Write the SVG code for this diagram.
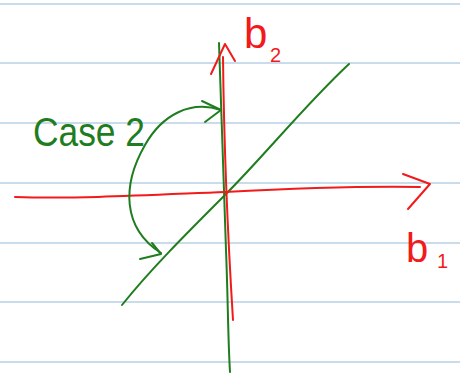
<svg xmlns="http://www.w3.org/2000/svg" width="460" height="375" viewBox="0 0 460 375">
<style>
.rule{stroke:#b7d0e4;stroke-width:1.6}
.red{fill:none;stroke:#f21a1a;stroke-width:2;stroke-linecap:round;stroke-linejoin:round}
.grn{fill:none;stroke:#1f7d1f;stroke-width:2;stroke-linecap:round;stroke-linejoin:round}
.rt{fill:#f21a1a;font-family:'Liberation Sans',sans-serif}
.gt{fill:#1f7d1f;font-family:'Liberation Sans',sans-serif}
</style>
<rect width="460" height="375" fill="#fff"/>
<g id="ruling">
<line class="rule" x1="0" y1="4" x2="460" y2="4"/>
<line class="rule" x1="0" y1="63" x2="460" y2="63"/>
<line class="rule" x1="0" y1="123" x2="460" y2="123"/>
<line class="rule" x1="0" y1="183" x2="460" y2="183"/>
<line class="rule" x1="0" y1="243" x2="460" y2="243"/>
<line class="rule" x1="0" y1="302" x2="460" y2="302"/>
<line class="rule" x1="0" y1="362" x2="460" y2="362"/>
</g>
<g id="green-lines">
<path class="grn" d="M219,43 C221,120 224,190 226,250 C228,300 228,340 230,372"/>
<path class="grn" d="M122,305 C150,270 185,235 225,195 C265,155 305,105 349,64"/>
</g>
<g id="axes">
<path class="red" d="M15,197 C80,199 150,195 225,192 C300,188 360,186 420,187"/>
<path class="red" d="M403,174 L430,184 L408,209"/>
<path class="red" d="M223,57 C224,150 228,240 233,320"/>
<path class="red" d="M211,74 L225,44 L235,61"/>
</g>
<g id="labels">
<text class="rt" x="244" y="48" font-size="42">b</text>
<text class="rt" x="270" y="62" font-size="20">2</text>
<text class="rt" x="406" y="262" font-size="40">b</text>
<text class="rt" x="437" y="268" font-size="20">1</text>
<text class="gt" x="33" y="146" font-size="40" textLength="112" lengthAdjust="spacingAndGlyphs">Case 2</text>
</g>
<g id="connectors">
<path class="grn" d="M221,110 C190,100 162,115 145,145 C122,185 122,228 161,253"/>
<path class="grn" d="M202,101 L221,110 L205,122"/>
<path class="grn" d="M140,259 L161,254 L152,243"/>
</g>
</svg>
